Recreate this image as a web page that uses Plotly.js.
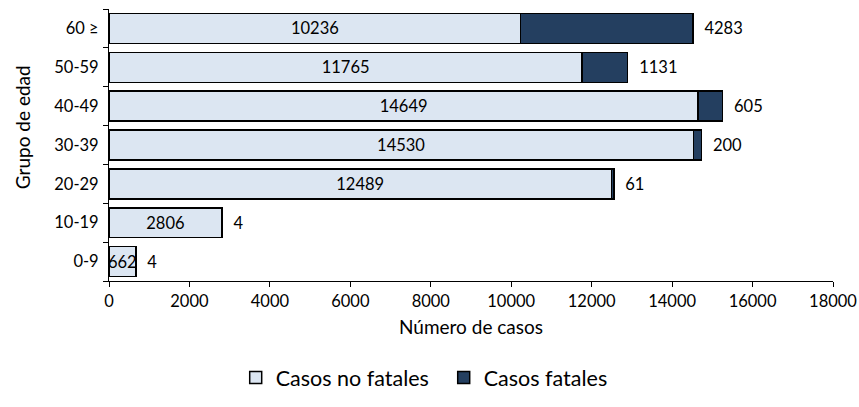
<!DOCTYPE html>
<html>
<head>
<meta charset="utf-8">
<script src="https://cdn.plot.ly/plotly-3.0.1.min.js"></script>
<style>html,body{margin:0;padding:0;background:#fff;}#chart{width:859px;height:407px;}</style>
</head>
<body>
<div id="chart"></div>
<script>
const ageGroups = ['0-9', '10-19', '20-29', '30-39', '40-49', '50-59', '60 ≥'];
const nonFatal = [662, 2806, 12489, 14530, 14649, 11765, 10236];
const fatal = [4, 4, 61, 200, 605, 1131, 4283];
const seriesNames = ['Casos no fatales', 'Casos fatales'];
const xTickValues = [0, 2000, 4000, 6000, 8000, 10000, 12000, 14000, 16000, 18000];
const xTitle = 'Número de casos';
const yTitle = 'Grupo de edad';

const FONT = 'Lato, "Open Sans", sans-serif';

const traces = [
  {
    type: 'bar', orientation: 'h', name: seriesNames[0],
    y: ageGroups, x: nonFatal,
    text: nonFatal.map(String), textposition: 'inside', insidetextanchor: 'middle',
    textangle: 0, constraintext: 'none', cliponaxis: false,
    insidetextfont: {color: '#000', size: 16.5, family: FONT},
    marker: {color: '#dce6f2', line: {color: '#000', width: 1.5}},
    hoverinfo: 'x+y'
  },
  {
    type: 'bar', orientation: 'h', name: seriesNames[1],
    y: ageGroups, x: fatal,
    text: fatal.map(v => '  ' + v), textposition: 'outside',
    textangle: 0, constraintext: 'none', cliponaxis: false,
    outsidetextfont: {color: '#000', size: 16.5, family: FONT},
    marker: {color: '#243f60', line: {color: '#000', width: 1.5}},
    hoverinfo: 'x+y'
  }
];

const layout = {
  width: 859, height: 407,
  margin: {l: 109, r: 26, t: 9, b: 124},
  barmode: 'stack', bargap: 0.23,
  paper_bgcolor: '#fff', plot_bgcolor: '#fff',
  font: {family: FONT, color: '#000', size: 16},
  showlegend: true,
  legend: {orientation: 'h', x: 0.175, xanchor: 'left', y: -0.355, yanchor: 'middle',
           entrywidth: 163, entrywidthmode: 'pixels',
           font: {size: 21.5, family: FONT}, traceorder: 'normal'},
  xaxis: {
    range: [0, 18000], tickvals: xTickValues, tickformat: 'd',
    ticks: 'outside', ticklen: 5, tickcolor: '#000',
    showline: true, linecolor: '#000', linewidth: 1, showgrid: false, zeroline: false,
    tickfont: {size: 16.5, family: FONT},
    title: {text: xTitle, font: {size: 19, family: FONT}, standoff: 10}
  },
  yaxis: {
    type: 'category', ticks: 'outside', ticklen: 5, tickcolor: '#000', tickson: 'boundaries',
    showline: true, linecolor: '#000', linewidth: 1, showgrid: false, zeroline: false,
    tickfont: {size: 16.5, family: FONT}, ticklabelstandoff: 6
  },
  annotations: [{
    text: yTitle, textangle: -90, xref: 'paper', yref: 'paper',
    x: -0.12, y: 0.566, xanchor: 'center', yanchor: 'middle', showarrow: false,
    font: {size: 19, family: FONT, color: '#000'}
  }]
};

Plotly.newPlot('chart', traces, layout, {displayModeBar: false, responsive: false});
</script>
</body>
</html>
